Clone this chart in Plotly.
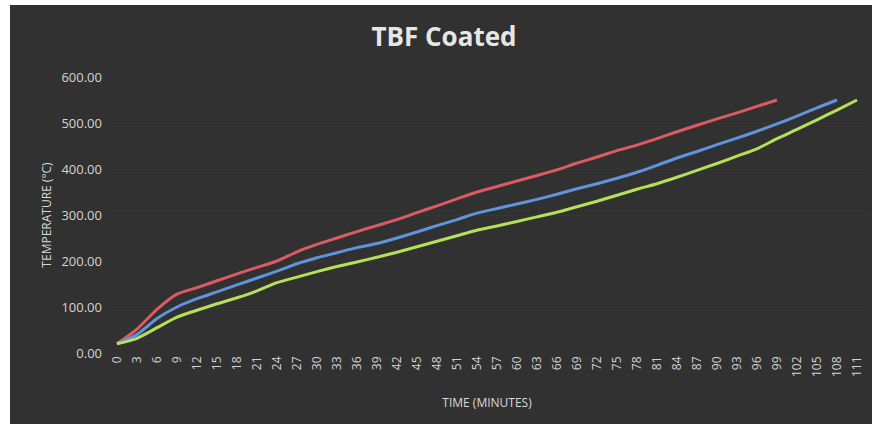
import plotly.graph_objects as go

minutes = [str(m) for m in range(0, 112, 3)]

red_vals = [20, 52, 95, 128, 142, 157, 172, 186, 200, 220, 236, 250, 264, 277,
            290, 305, 320, 335, 350, 362, 374, 386, 398, 413, 426, 440, 452, 466,
            481, 495, 509, 522, 536, 550, None, None, None, None]
blue_vals = [20, 40, 75, 100, 118, 133, 148, 163, 178, 194, 207, 218, 229, 238,
             250, 263, 277, 290, 304, 314, 324, 334, 345, 357, 368, 380, 393, 408,
             424, 438, 453, 467, 482, 498, 515, 533, 550, None]
green_vals = [20, 32, 55, 78, 93, 107, 120, 135, 153, 165, 177, 188, 198, 208,
              219, 231, 243, 255, 267, 276, 286, 296, 306, 318, 330, 343, 356, 368,
              382, 397, 412, 428, 444, 466, 486, 507, 528, 550]

y_ticks = [0, 100, 200, 300, 400, 500, 600]
y_tick_text = ["0.00", "100.00", "200.00", "300.00", "400.00", "500.00", "600.00"]

series = [
    ("Red", red_vals, "#dc5a64"),
    ("Blue", blue_vals, "#5f93dc"),
    ("Green", green_vals, "#b4e05a"),
]

fig = go.Figure()
for name, vals, color in series:
    fig.add_trace(go.Scatter(
        x=minutes, y=vals, mode="lines", name=name,
        line=dict(color=color, width=3, shape="spline", smoothing=0.6),
        connectgaps=False,
    ))

L, R, T, B = 107, 5, 77, 71
W, H = 872, 424
pw, ph = W - L - R, H - T - B

def px_x(p):
    return (p - L) / pw

def px_y(p):
    return (H - B - p) / ph

fig.add_shape(type="rect", xref="paper", yref="paper",
              x0=px_x(10), x1=px_x(W + 2), y0=px_y(H + 2), y1=px_y(5),
              fillcolor="#313131", line=dict(width=0), layer="below")

fig.update_layout(
    width=W, height=H,
    margin=dict(l=L, r=R, t=T, b=B),
    paper_bgcolor="#ffffff",
    plot_bgcolor="rgba(0,0,0,0)",
    showlegend=False,
    font=dict(family="Open Sans", color="#d9d9d9", size=10),
    title=dict(text="<b>TBF Coated</b>", x=444 / W, xanchor="center", xref="container",
               y=1 - 37 / H, yanchor="middle",
               font=dict(family="Open Sans", size=26, color="#e6e6e6")),
    xaxis=dict(
        type="category", range=[-0.5, len(minutes) - 0.5],
        tickangle=-90, tickfont=dict(size=12, color="#d4d4d4"),
        showgrid=False, zeroline=False, showline=False, ticks="",
        automargin=False,
        title=dict(text="TIME (MINUTES)", font=dict(size=12, color="#d9d9d9"), standoff=22),
    ),
    yaxis=dict(
        range=[0, 600], tickvals=y_ticks, ticktext=y_tick_text,
        tickfont=dict(size=13, color="#d4d4d4"),
        ticklabelstandoff=4,
        showgrid=True, gridcolor="#363636", gridwidth=1,
        zeroline=False, showline=False, ticks="",
        automargin=False,
        title=dict(text="TEMPERATURE (°C)", font=dict(size=12, color="#d9d9d9"), standoff=7),
    ),
)

fig.write_html("out.html", config={"displayModeBar": False},
               post_script="document.body.style.margin='0';document.body.style.overflow='hidden';")
